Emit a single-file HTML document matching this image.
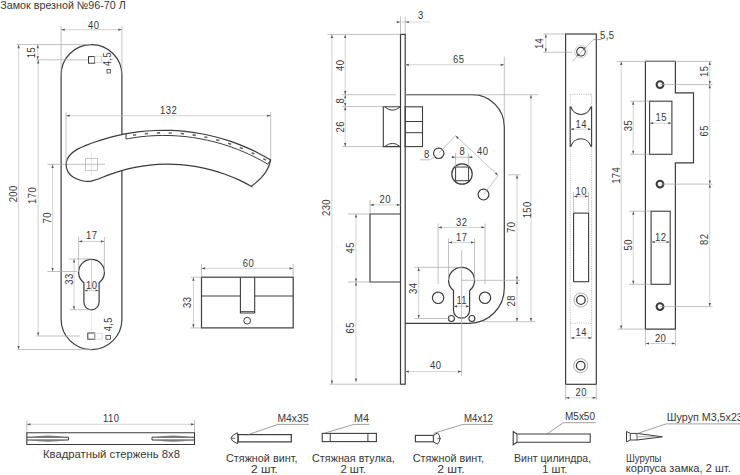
<!DOCTYPE html>
<html><head><meta charset="utf-8"><style>
html,body{margin:0;padding:0;background:#fff;}
svg{display:block;}
text{font-family:"Liberation Sans",sans-serif;fill:#383838;}
</style></head><body>
<svg width="740" height="475" viewBox="0 0 740 475">
<rect width="740" height="475" fill="#fff"/>
<text x="0" y="0" transform="translate(0.3 8.9)" text-anchor="start" font-size="11" textLength="125.5" lengthAdjust="spacingAndGlyphs">Замок врезной №96-70 Л</text>
<path d="M121.9 134.5 L121.9 75 A30.4 30.4 0 0 0 61.1 75 L61.1 319.2 A30.4 30.4 0 0 0 121.9 319.2 L121.9 171" stroke="#3c3c3c" stroke-width="1.2" fill="none"/>
<line x1="61.1" y1="26" x2="61.1" y2="75" stroke="#a8a8a8" stroke-width="0.7"/>
<line x1="121.9" y1="26" x2="121.9" y2="75" stroke="#a8a8a8" stroke-width="0.7"/>
<line x1="61.1" y1="29.7" x2="121.9" y2="29.7" stroke="#c0c0c0" stroke-width="0.7"/>
<path d="M61.1 29.7L64.7 28.6L64.7 30.8Z" fill="#555"/>
<path d="M121.9 29.7L118.3 30.8L118.3 28.6Z" fill="#555"/>
<text x="0" y="0" dx="0.25" transform="translate(93.5 28.7) scale(0.86 1)" text-anchor="middle" font-size="11" letter-spacing="0.5">40</text>
<line x1="17" y1="44.6" x2="91" y2="44.6" stroke="#a8a8a8" stroke-width="0.7"/>
<line x1="36" y1="59.8" x2="88" y2="59.8" stroke="#a8a8a8" stroke-width="0.7"/>
<line x1="37.8" y1="44.6" x2="37.8" y2="59.8" stroke="#c0c0c0" stroke-width="0.7"/>
<path d="M37.8 44.6L38.9 48.2L36.7 48.2Z" fill="#555"/>
<path d="M37.8 59.8L36.7 56.2L38.9 56.2Z" fill="#555"/>
<text x="0" y="0" dx="0.25" transform="translate(34.9 52.8) rotate(-90) scale(0.86 1)" text-anchor="middle" font-size="11" letter-spacing="0.5">15</text>
<rect x="88.5" y="56.6" width="6.1" height="6.6" stroke="#3c3c3c" stroke-width="1.0" fill="none"/>
<rect x="107" y="69.5" width="3.5" height="3.5" stroke="#3c3c3c" stroke-width="0.8" fill="none"/>
<text x="0" y="0" dx="0.25" transform="translate(110.8 59.3) rotate(-90) scale(0.86 1)" text-anchor="middle" font-size="10.5" letter-spacing="0.5">4,5</text>
<rect x="94.7" y="56.2" width="7" height="6.4" stroke="#c4c4c4" stroke-width="0.6" fill="none"/>
<line x1="18.6" y1="44.6" x2="18.6" y2="349.6" stroke="#c0c0c0" stroke-width="0.7"/>
<path d="M18.6 44.6L19.7 48.2L17.5 48.2Z" fill="#555"/>
<path d="M18.6 349.6L17.5 346L19.7 346Z" fill="#555"/>
<text x="0" y="0" dx="0.25" transform="translate(16.8 194) rotate(-90) scale(0.86 1)" text-anchor="middle" font-size="11" letter-spacing="0.5">200</text>
<line x1="17.5" y1="349.6" x2="92" y2="349.6" stroke="#a8a8a8" stroke-width="0.7"/>
<line x1="38.2" y1="59.8" x2="38.2" y2="336" stroke="#c0c0c0" stroke-width="0.7"/>
<path d="M38.2 59.8L39.3 63.4L37.1 63.4Z" fill="#555"/>
<path d="M38.2 336L37.1 332.4L39.3 332.4Z" fill="#555"/>
<text x="0" y="0" dx="0.25" transform="translate(36.4 195.6) rotate(-90) scale(0.86 1)" text-anchor="middle" font-size="11" letter-spacing="0.5">170</text>
<line x1="36.5" y1="336" x2="80" y2="336" stroke="#a8a8a8" stroke-width="0.7"/>
<rect x="87.8" y="333" width="6.9" height="6.2" stroke="#3c3c3c" stroke-width="1.0" fill="none"/>
<rect x="106" y="335.4" width="4.5" height="3.8" stroke="#3c3c3c" stroke-width="0.8" fill="none"/>
<text x="0" y="0" dx="0.25" transform="translate(111.5 324.5) rotate(-90) scale(0.86 1)" text-anchor="middle" font-size="10.5" letter-spacing="0.5">4,5</text>
<rect x="94.4" y="333.2" width="7.7" height="5.9" stroke="#c4c4c4" stroke-width="0.6" fill="none"/>
<line x1="91.5" y1="312" x2="91.5" y2="332" stroke="#d8d8d8" stroke-width="0.5"/>
<line x1="52.6" y1="164.3" x2="52.6" y2="271.5" stroke="#c0c0c0" stroke-width="0.7"/>
<path d="M52.6 164.3L53.7 167.9L51.5 167.9Z" fill="#555"/>
<path d="M52.6 271.5L51.5 267.9L53.7 267.9Z" fill="#555"/>
<text x="0" y="0" dx="0.25" transform="translate(50.5 218) rotate(-90) scale(0.86 1)" text-anchor="middle" font-size="11" letter-spacing="0.5">70</text>
<line x1="47.5" y1="164.3" x2="105" y2="164.3" stroke="#a8a8a8" stroke-width="0.7"/>
<line x1="47.5" y1="271.5" x2="77" y2="271.5" stroke="#a8a8a8" stroke-width="0.7"/>
<path d="M83.9 282.72 A12.9 12.9 0 1 1 99.1 282.72 L99.1 302.2 A7.6 7.6 0 0 1 83.9 302.2 Z" stroke="#3c3c3c" stroke-width="1.2" fill="none"/>
<line x1="78.6" y1="237" x2="78.6" y2="272" stroke="#a8a8a8" stroke-width="0.7"/>
<line x1="104.4" y1="237" x2="104.4" y2="272" stroke="#a8a8a8" stroke-width="0.7"/>
<line x1="78.6" y1="241.4" x2="104.4" y2="241.4" stroke="#c0c0c0" stroke-width="0.7"/>
<path d="M78.6 241.4L82.2 240.3L82.2 242.5Z" fill="#555"/>
<path d="M104.4 241.4L100.8 242.5L100.8 240.3Z" fill="#555"/>
<text x="0" y="0" dx="0.25" transform="translate(91.5 239) scale(0.86 1)" text-anchor="middle" font-size="11" letter-spacing="0.5">17</text>
<line x1="68.7" y1="259" x2="91.5" y2="259" stroke="#a8a8a8" stroke-width="0.7"/>
<line x1="69.7" y1="309.8" x2="91.5" y2="309.8" stroke="#a8a8a8" stroke-width="0.7"/>
<line x1="74" y1="259" x2="74" y2="309.8" stroke="#c0c0c0" stroke-width="0.7"/>
<path d="M74 259L75.1 262.6L72.9 262.6Z" fill="#555"/>
<path d="M74 309.8L72.9 306.2L75.1 306.2Z" fill="#555"/>
<text x="0" y="0" dx="0.25" transform="translate(72.5 279.2) rotate(-90) scale(0.86 1)" text-anchor="middle" font-size="11" letter-spacing="0.5">33</text>
<line x1="83.9" y1="290.5" x2="99.1" y2="290.5" stroke="#c0c0c0" stroke-width="0.7"/>
<path d="M83.9 290.5L87.5 289.4L87.5 291.6Z" fill="#555"/>
<path d="M99.1 290.5L95.5 291.6L95.5 289.4Z" fill="#555"/>
<text x="0" y="0" dx="0.25" transform="translate(91.5 289) scale(0.86 1)" text-anchor="middle" font-size="11" letter-spacing="0.5">10</text>
<line x1="91.5" y1="259" x2="91.5" y2="290" stroke="#a8a8a8" stroke-width="0.5"/>
<path d="M251.9 186.61C249.92 185.57 244.48 182.47 240 180.4C235.52 178.33 230 175.99 225 174.19C220 172.38 215 170.86 210 169.57C205 168.27 200 167.23 195 166.41C190 165.59 185 165.01 180 164.65C175 164.28 170 164.14 165 164.22C160 164.3 155 164.6 150 165.13C145 165.65 140 166.4 135 167.39C130 168.37 124.5 169.77 120 171.05C115.5 172.33 111.5 173.78 108 175.07C104.5 176.35 102 177.72 99 178.76C96 179.79 93 181.01 90 181.3C87 181.59 83.9 181.25 81 180.5C78.1 179.75 74.78 178.28 72.6 176.8C70.42 175.32 68.98 173.62 67.9 171.6C66.82 169.58 66.15 166.88 66.1 164.7C66.05 162.52 66.7 160.37 67.6 158.5C68.5 156.63 69.77 155.11 71.5 153.5C73.23 151.89 75.58 150.21 78 148.86C80.42 147.52 83.17 146.57 86 145.43C88.83 144.3 91.83 143.14 95 142.03C98.17 140.93 101.67 139.79 105 138.8C108.33 137.82 111.67 136.93 115 136.12C118.33 135.31 120.83 134.7 125 133.96C129.17 133.22 135 132.25 140 131.67C145 131.09 150 130.7 155 130.49C160 130.27 165 130.24 170 130.39C175 130.54 180 130.87 185 131.39C190 131.9 195 132.59 200 133.48C205 134.37 210 135.44 215 136.71C220 137.99 225 139.45 230 141.14C235 142.83 240.33 144.88 245 146.84C249.67 148.8 253.72 150.72 258 152.91C262.28 155.09 268.58 158.77 270.7 159.95Q268 175 251.9 185.7Z" stroke="#3c3c3c" stroke-width="1.2" fill="none"/>
<path d="M126 139.01C128.33 138.65 135.17 137.42 140 136.85C144.83 136.29 150 135.86 155 135.64C160 135.42 165 135.39 170 135.54C175 135.7 180 136.04 185 136.56C190 137.09 195 137.8 200 138.71C205 139.63 210 140.72 215 142.03C220 143.34 225 144.85 230 146.58C235 148.32 240.33 150.43 245 152.45C249.67 154.47 254.2 156.75 258 158.71C261.8 160.67 266.17 163.3 267.8 164.21" stroke="#3c3c3c" stroke-width="1.0" fill="none"/>
<line x1="126" y1="133.57" x2="126" y2="139.01" stroke="#3c3c3c" stroke-width="1.0"/>
<line x1="270.7" y1="159.6" x2="267.8" y2="164.21" stroke="#3c3c3c" stroke-width="1.0"/>
<rect x="133" y="134.17" width="3.2" height="1.6" fill="#666" transform="rotate(-8.19 134.6 134.97)"/>
<rect x="144.9" y="132.81" width="3.2" height="1.6" fill="#666" transform="rotate(-4.84 146.5 133.61)"/>
<rect x="156.9" y="132.14" width="3.2" height="1.6" fill="#666" transform="rotate(-1.48 158.5 132.94)"/>
<rect x="168.7" y="132.18" width="3.2" height="1.6" fill="#666" transform="rotate(1.82 170.3 132.98)"/>
<rect x="180.7" y="132.91" width="3.2" height="1.6" fill="#666" transform="rotate(5.18 182.3 133.71)"/>
<rect x="192.6" y="134.34" width="3.2" height="1.6" fill="#666" transform="rotate(8.53 194.2 135.14)"/>
<rect x="204.3" y="136.45" width="3.2" height="1.6" fill="#666" transform="rotate(11.85 205.9 137.25)"/>
<rect x="216.1" y="139.29" width="3.2" height="1.6" fill="#666" transform="rotate(15.25 217.7 140.09)"/>
<rect x="228" y="142.92" width="3.2" height="1.6" fill="#666" transform="rotate(18.72 229.6 143.72)"/>
<rect x="239.7" y="147.29" width="3.2" height="1.6" fill="#666" transform="rotate(22.22 241.3 148.09)"/>
<rect x="251.4" y="152.5" width="3.2" height="1.6" fill="#666" transform="rotate(25.8 253 153.3)"/>
<rect x="263" y="158.57" width="3.2" height="1.6" fill="#666" transform="rotate(29.46 264.6 159.37)"/>
<rect x="85.5" y="158.6" width="12.1" height="11.7" stroke="#b0b0b0" stroke-width="0.7" fill="none"/>
<line x1="91.5" y1="153" x2="91.5" y2="176" stroke="#c8c8c8" stroke-width="0.5"/>
<line x1="66" y1="112" x2="66" y2="164" stroke="#a8a8a8" stroke-width="0.7"/>
<line x1="270.7" y1="112" x2="270.7" y2="159" stroke="#a8a8a8" stroke-width="0.7"/>
<line x1="66" y1="115.7" x2="270.7" y2="115.7" stroke="#c0c0c0" stroke-width="0.7"/>
<path d="M66 115.7L69.6 114.6L69.6 116.8Z" fill="#555"/>
<path d="M270.7 115.7L267.1 116.8L267.1 114.6Z" fill="#555"/>
<text x="0" y="0" dx="0.25" transform="translate(168.4 113.7) scale(0.86 1)" text-anchor="middle" font-size="11" letter-spacing="0.5">132</text>
<rect x="201.5" y="277.2" width="91.7" height="50.7" stroke="#3c3c3c" stroke-width="1.2" fill="none"/>
<line x1="201.5" y1="296" x2="240.4" y2="296" stroke="#3c3c3c" stroke-width="1.2"/>
<line x1="254.7" y1="296" x2="293.2" y2="296" stroke="#3c3c3c" stroke-width="1.2"/>
<path d="M240.4 277.2 L240.4 313 L254.7 313 L254.7 277.2" stroke="#3c3c3c" stroke-width="1.1" fill="none"/>
<line x1="240.4" y1="311.6" x2="254.7" y2="311.6" stroke="#3c3c3c" stroke-width="0.9"/>
<circle cx="247.2" cy="320.7" r="3.4" stroke="#3c3c3c" stroke-width="1.0" fill="none"/>
<line x1="201.5" y1="264" x2="201.5" y2="277" stroke="#a8a8a8" stroke-width="0.7"/>
<line x1="293.2" y1="264" x2="293.2" y2="277" stroke="#a8a8a8" stroke-width="0.7"/>
<line x1="201.5" y1="268.4" x2="293.2" y2="268.4" stroke="#c0c0c0" stroke-width="0.7"/>
<path d="M201.5 268.4L205.1 267.3L205.1 269.5Z" fill="#555"/>
<path d="M293.2 268.4L289.6 269.5L289.6 267.3Z" fill="#555"/>
<text x="0" y="0" dx="0.25" transform="translate(248.3 266.7) scale(0.86 1)" text-anchor="middle" font-size="11" letter-spacing="0.5">60</text>
<line x1="190.5" y1="277.2" x2="201.5" y2="277.2" stroke="#a8a8a8" stroke-width="0.7"/>
<line x1="190.5" y1="327.9" x2="201.5" y2="327.9" stroke="#a8a8a8" stroke-width="0.7"/>
<line x1="193.4" y1="277.2" x2="193.4" y2="327.9" stroke="#c0c0c0" stroke-width="0.7"/>
<path d="M193.4 277.2L194.5 280.8L192.3 280.8Z" fill="#555"/>
<path d="M193.4 327.9L192.3 324.3L194.5 324.3Z" fill="#555"/>
<text x="0" y="0" dx="0.25" transform="translate(191 302.5) rotate(-90) scale(0.86 1)" text-anchor="middle" font-size="11" letter-spacing="0.5">33</text>
<rect x="400.5" y="34.4" width="4.7" height="349.8" stroke="#3c3c3c" stroke-width="1.2" fill="none"/>
<path d="M405.2 94.7 L472.3 94.7 A32 32 0 0 1 504.3 126.7 L504.3 288.3 A35 35 0 0 1 469.3 323.3 L405.2 323.3" stroke="#3c3c3c" stroke-width="1.2" fill="none"/>
<line x1="400.5" y1="16.5" x2="400.5" y2="34" stroke="#a8a8a8" stroke-width="0.7"/>
<line x1="405.2" y1="16.5" x2="405.2" y2="34" stroke="#a8a8a8" stroke-width="0.7"/>
<line x1="396" y1="22" x2="430" y2="22" stroke="#c8c8c8" stroke-width="0.7"/>
<path d="M400.5 22L396.9 23.1L396.9 20.9Z" fill="#555"/>
<path d="M405.2 22L408.8 20.9L408.8 23.1Z" fill="#555"/>
<text x="0" y="0" dx="0.25" transform="translate(420.5 19) scale(0.86 1)" text-anchor="middle" font-size="11" letter-spacing="0.5">3</text>
<line x1="327.5" y1="34.4" x2="400.5" y2="34.4" stroke="#a8a8a8" stroke-width="0.7"/>
<line x1="331.9" y1="34.4" x2="331.9" y2="384.2" stroke="#c0c0c0" stroke-width="0.7"/>
<path d="M331.9 34.4L333 38L330.8 38Z" fill="#555"/>
<path d="M331.9 384.2L330.8 380.6L333 380.6Z" fill="#555"/>
<text x="0" y="0" dx="0.25" transform="translate(330.3 207.7) rotate(-90) scale(0.86 1)" text-anchor="middle" font-size="11" letter-spacing="0.5">230</text>
<line x1="345.2" y1="34.4" x2="345.2" y2="94.7" stroke="#c0c0c0" stroke-width="0.7"/>
<path d="M345.2 34.4L346.3 38L344.1 38Z" fill="#555"/>
<path d="M345.2 94.7L344.1 91.1L346.3 91.1Z" fill="#555"/>
<text x="0" y="0" dx="0.25" transform="translate(343.5 65.5) rotate(-90) scale(0.86 1)" text-anchor="middle" font-size="11" letter-spacing="0.5">40</text>
<line x1="342" y1="94.7" x2="396" y2="94.7" stroke="#a8a8a8" stroke-width="0.7"/>
<line x1="405.2" y1="94.7" x2="538" y2="94.7" stroke="#a8a8a8" stroke-width="0.7"/>
<line x1="345.2" y1="94.7" x2="345.2" y2="106.6" stroke="#c0c0c0" stroke-width="0.7"/>
<path d="M345.2 94.7L346.3 98.3L344.1 98.3Z" fill="#555"/>
<path d="M345.2 106.6L344.1 103L346.3 103Z" fill="#555"/>
<text x="0" y="0" dx="0.25" transform="translate(343.5 101) rotate(-90) scale(0.86 1)" text-anchor="middle" font-size="11" letter-spacing="0.5">8</text>
<line x1="345.2" y1="106.6" x2="345.2" y2="146.6" stroke="#c0c0c0" stroke-width="0.7"/>
<path d="M345.2 106.6L346.3 110.2L344.1 110.2Z" fill="#555"/>
<path d="M345.2 146.6L344.1 143L346.3 143Z" fill="#555"/>
<text x="0" y="0" dx="0.25" transform="translate(343.5 127) rotate(-90) scale(0.86 1)" text-anchor="middle" font-size="11" letter-spacing="0.5">26</text>
<line x1="342" y1="146.6" x2="383.3" y2="146.6" stroke="#a8a8a8" stroke-width="0.7"/>
<line x1="342" y1="106.6" x2="383.3" y2="106.6" stroke="#a8a8a8" stroke-width="0.7"/>
<path d="M400.5 106.8 L383.3 106.8 L383.3 146.6 L400.5 146.6" stroke="#3c3c3c" stroke-width="1.1" fill="none"/>
<path d="M385 107.1 Q392.5 113.4 400 107.1" stroke="#3c3c3c" stroke-width="1.0" fill="none"/>
<path d="M385 146.5 Q392.5 140.2 400 146.5" stroke="#3c3c3c" stroke-width="1.0" fill="none"/>
<rect x="405.2" y="106.8" width="17.3" height="39.8" stroke="#3c3c3c" stroke-width="1.1" fill="none"/>
<line x1="405.2" y1="121.5" x2="422.5" y2="121.5" stroke="#3c3c3c" stroke-width="1.0"/>
<line x1="405.2" y1="132.7" x2="422.5" y2="132.7" stroke="#3c3c3c" stroke-width="1.0"/>
<line x1="504.3" y1="56.5" x2="504.3" y2="121" stroke="#a8a8a8" stroke-width="0.7"/>
<line x1="405.2" y1="64.8" x2="504.3" y2="64.8" stroke="#c0c0c0" stroke-width="0.7"/>
<path d="M405.2 64.8L408.8 63.7L408.8 65.9Z" fill="#555"/>
<path d="M504.3 64.8L500.7 65.9L500.7 63.7Z" fill="#555"/>
<text x="0" y="0" dx="0.25" transform="translate(458.5 63) scale(0.86 1)" text-anchor="middle" font-size="11" letter-spacing="0.5">65</text>
<circle cx="438.7" cy="153.3" r="5.2" stroke="#3c3c3c" stroke-width="1.2" fill="none"/>
<circle cx="483.5" cy="194.6" r="5.4" stroke="#3c3c3c" stroke-width="1.2" fill="none"/>
<circle cx="462" cy="174" r="10.2" stroke="#3c3c3c" stroke-width="1.2" fill="none"/>
<rect x="455.6" y="167" width="13" height="13.7" stroke="#3c3c3c" stroke-width="1.0" fill="none"/>
<line x1="420" y1="159.8" x2="430" y2="159.8" stroke="#a8a8a8" stroke-width="0.7"/>
<line x1="430" y1="159.8" x2="437" y2="155" stroke="#a8a8a8" stroke-width="0.7"/>
<text x="0" y="0" dx="0.25" transform="translate(426.5 158) scale(0.86 1)" text-anchor="middle" font-size="11" letter-spacing="0.5">8</text>
<line x1="455.6" y1="153" x2="455.6" y2="167" stroke="#a8a8a8" stroke-width="0.7"/>
<line x1="468.6" y1="153" x2="468.6" y2="167" stroke="#a8a8a8" stroke-width="0.7"/>
<line x1="451" y1="157.2" x2="473" y2="157.2" stroke="#a8a8a8" stroke-width="0.7"/>
<path d="M455.6 157.2L452 158.3L452 156.1Z" fill="#555"/>
<path d="M468.6 157.2L472.2 156.1L472.2 158.3Z" fill="#555"/>
<text x="0" y="0" dx="0.25" transform="translate(462 155) scale(0.86 1)" text-anchor="middle" font-size="11" letter-spacing="0.5">8</text>
<line x1="438.7" y1="153.3" x2="455.5" y2="135.7" stroke="#a8a8a8" stroke-width="0.7"/>
<line x1="483.5" y1="194.6" x2="498.2" y2="175.5" stroke="#a8a8a8" stroke-width="0.7"/>
<line x1="455.5" y1="135.7" x2="498.2" y2="175.5" stroke="#a8a8a8" stroke-width="0.7"/>
<path d="M455.5 135.7L458.89 137.35L457.39 138.96Z" fill="#555"/>
<path d="M498.2 175.5L494.81 173.85L496.31 172.24Z" fill="#555"/>
<text x="0" y="0" dx="0.25" transform="translate(482.5 154.5) scale(0.86 1)" text-anchor="middle" font-size="11" letter-spacing="0.5">40</text>
<path d="M400.5 214 L370 214 L370 282 L400.5 282" stroke="#3c3c3c" stroke-width="1.2" fill="none"/>
<line x1="370" y1="200" x2="370" y2="214" stroke="#a8a8a8" stroke-width="0.7"/>
<line x1="370" y1="204.9" x2="400.5" y2="204.9" stroke="#c0c0c0" stroke-width="0.7"/>
<path d="M370 204.9L373.6 203.8L373.6 206Z" fill="#555"/>
<path d="M400.5 204.9L396.9 206L396.9 203.8Z" fill="#555"/>
<text x="0" y="0" dx="0.25" transform="translate(385 202.5) scale(0.86 1)" text-anchor="middle" font-size="11" letter-spacing="0.5">20</text>
<line x1="348" y1="214" x2="370" y2="214" stroke="#a8a8a8" stroke-width="0.7"/>
<line x1="348" y1="282" x2="370" y2="282" stroke="#a8a8a8" stroke-width="0.7"/>
<line x1="356" y1="214" x2="356" y2="282" stroke="#c0c0c0" stroke-width="0.7"/>
<path d="M356 214L357.1 217.6L354.9 217.6Z" fill="#555"/>
<path d="M356 282L354.9 278.4L357.1 278.4Z" fill="#555"/>
<text x="0" y="0" dx="0.25" transform="translate(354 248) rotate(-90) scale(0.86 1)" text-anchor="middle" font-size="11" letter-spacing="0.5">45</text>
<line x1="356" y1="282" x2="356" y2="382.2" stroke="#c0c0c0" stroke-width="0.7"/>
<path d="M356 282L357.1 285.6L354.9 285.6Z" fill="#555"/>
<path d="M356 382.2L354.9 378.6L357.1 378.6Z" fill="#555"/>
<text x="0" y="0" dx="0.25" transform="translate(354 328) rotate(-90) scale(0.86 1)" text-anchor="middle" font-size="11" letter-spacing="0.5">65</text>
<line x1="329.5" y1="384.2" x2="400.5" y2="384.2" stroke="#a8a8a8" stroke-width="0.7"/>
<path d="M453.5 290.55 A13 13 0 1 1 469.6 290.55 L469.6 310.15 A8.05 8.05 0 0 1 453.5 310.15 Z" stroke="#3c3c3c" stroke-width="1.2" fill="none"/>
<circle cx="438.1" cy="297.8" r="5.7" stroke="#3c3c3c" stroke-width="1.2" fill="none"/>
<circle cx="485" cy="297.8" r="5.7" stroke="#3c3c3c" stroke-width="1.2" fill="none"/>
<circle cx="451.4" cy="318.5" r="3" stroke="#3c3c3c" stroke-width="1.1" fill="none"/>
<circle cx="471.9" cy="318.5" r="3" stroke="#3c3c3c" stroke-width="1.1" fill="none"/>
<line x1="438.1" y1="223.5" x2="438.1" y2="284" stroke="#a8a8a8" stroke-width="0.7"/>
<line x1="485" y1="223.5" x2="485" y2="284" stroke="#a8a8a8" stroke-width="0.7"/>
<line x1="438.1" y1="227.4" x2="485" y2="227.4" stroke="#c0c0c0" stroke-width="0.7"/>
<path d="M438.1 227.4L441.7 226.3L441.7 228.5Z" fill="#555"/>
<path d="M485 227.4L481.4 228.5L481.4 226.3Z" fill="#555"/>
<text x="0" y="0" dx="0.25" transform="translate(461.5 225.5) scale(0.86 1)" text-anchor="middle" font-size="11" letter-spacing="0.5">32</text>
<line x1="448.5" y1="238.5" x2="448.5" y2="280" stroke="#a8a8a8" stroke-width="0.7"/>
<line x1="474.5" y1="238.5" x2="474.5" y2="280" stroke="#a8a8a8" stroke-width="0.7"/>
<line x1="448.5" y1="242.4" x2="474.5" y2="242.4" stroke="#c0c0c0" stroke-width="0.7"/>
<path d="M448.5 242.4L452.1 241.3L452.1 243.5Z" fill="#555"/>
<path d="M474.5 242.4L470.9 243.5L470.9 241.3Z" fill="#555"/>
<text x="0" y="0" dx="0.25" transform="translate(461.5 240.5) scale(0.86 1)" text-anchor="middle" font-size="11" letter-spacing="0.5">17</text>
<line x1="453.5" y1="306.3" x2="469.6" y2="306.3" stroke="#c0c0c0" stroke-width="0.7"/>
<path d="M453.5 306.3L457.1 305.2L457.1 307.4Z" fill="#555"/>
<path d="M469.6 306.3L466 307.4L466 305.2Z" fill="#555"/>
<text x="0" y="0" dx="0.25" transform="translate(461.5 303.5) scale(0.86 1)" text-anchor="middle" font-size="11" letter-spacing="0.5">11</text>
<line x1="414.5" y1="267.3" x2="461" y2="267.3" stroke="#a8a8a8" stroke-width="0.7"/>
<line x1="414.5" y1="318.5" x2="450" y2="318.5" stroke="#a8a8a8" stroke-width="0.7"/>
<line x1="418.7" y1="267.3" x2="418.7" y2="318.5" stroke="#c0c0c0" stroke-width="0.7"/>
<path d="M418.7 267.3L419.8 270.9L417.6 270.9Z" fill="#555"/>
<path d="M418.7 318.5L417.6 314.9L419.8 314.9Z" fill="#555"/>
<text x="0" y="0" dx="0.25" transform="translate(417.2 288.5) rotate(-90) scale(0.86 1)" text-anchor="middle" font-size="11" letter-spacing="0.5">34</text>
<line x1="461.6" y1="250" x2="461.6" y2="376" stroke="#a8a8a8" stroke-width="0.7"/>
<line x1="461.6" y1="280.3" x2="520" y2="280.3" stroke="#a8a8a8" stroke-width="0.7"/>
<line x1="405.2" y1="371.6" x2="461.6" y2="371.6" stroke="#c0c0c0" stroke-width="0.7"/>
<path d="M405.2 371.6L408.8 370.5L408.8 372.7Z" fill="#555"/>
<path d="M461.6 371.6L458 372.7L458 370.5Z" fill="#555"/>
<text x="0" y="0" dx="0.25" transform="translate(435.5 368.5) scale(0.86 1)" text-anchor="middle" font-size="11" letter-spacing="0.5">40</text>
<line x1="531" y1="94.7" x2="531" y2="321.7" stroke="#c0c0c0" stroke-width="0.7"/>
<path d="M531 94.7L532.1 98.3L529.9 98.3Z" fill="#555"/>
<path d="M531 321.7L529.9 318.1L532.1 318.1Z" fill="#555"/>
<text x="0" y="0" dx="0.25" transform="translate(530.5 210) rotate(-90) scale(0.86 1)" text-anchor="middle" font-size="11" letter-spacing="0.5">150</text>
<line x1="507.9" y1="174.8" x2="520.5" y2="174.8" stroke="#a8a8a8" stroke-width="0.7"/>
<line x1="517" y1="174.8" x2="517" y2="280.3" stroke="#c0c0c0" stroke-width="0.7"/>
<path d="M517 174.8L518.1 178.4L515.9 178.4Z" fill="#555"/>
<path d="M517 280.3L515.9 276.7L518.1 276.7Z" fill="#555"/>
<text x="0" y="0" dx="0.25" transform="translate(514.5 227.5) rotate(-90) scale(0.86 1)" text-anchor="middle" font-size="11" letter-spacing="0.5">70</text>
<line x1="517" y1="280.3" x2="517" y2="321.7" stroke="#c0c0c0" stroke-width="0.7"/>
<path d="M517 280.3L518.1 283.9L515.9 283.9Z" fill="#555"/>
<path d="M517 321.7L515.9 318.1L518.1 318.1Z" fill="#555"/>
<text x="0" y="0" dx="0.25" transform="translate(514.5 301) rotate(-90) scale(0.86 1)" text-anchor="middle" font-size="11" letter-spacing="0.5">28</text>
<line x1="482" y1="321.7" x2="535.5" y2="321.7" stroke="#a8a8a8" stroke-width="0.7"/>
<rect x="565.6" y="34" width="30.7" height="350.3" stroke="#3c3c3c" stroke-width="1.2" fill="none"/>
<line x1="543.3" y1="34" x2="565.6" y2="34" stroke="#a8a8a8" stroke-width="0.7"/>
<line x1="543.3" y1="52.2" x2="572" y2="52.2" stroke="#a8a8a8" stroke-width="0.7"/>
<line x1="545.8" y1="34" x2="545.8" y2="52.2" stroke="#c0c0c0" stroke-width="0.7"/>
<path d="M545.8 34L546.9 37.6L544.7 37.6Z" fill="#555"/>
<path d="M545.8 52.2L544.7 48.6L546.9 48.6Z" fill="#555"/>
<text x="0" y="0" dx="0.25" transform="translate(543 43.6) rotate(-90) scale(0.86 1)" text-anchor="middle" font-size="11" letter-spacing="0.5">14</text>
<circle cx="581" cy="51.7" r="4.3" stroke="#3c3c3c" stroke-width="1.1" fill="none"/>
<circle cx="581" cy="51.7" r="6.3" stroke="#b5b5b5" stroke-width="0.6" fill="none"/>
<line x1="572" y1="61.7" x2="593.5" y2="39.6" stroke="#999" stroke-width="0.6"/>
<line x1="593.5" y1="39.6" x2="601.7" y2="39.6" stroke="#777" stroke-width="0.7"/>
<text x="0" y="0" transform="translate(600 38.5) scale(0.86 1)" text-anchor="start" font-size="11" letter-spacing="0.5">5,5</text>
<path d="M585.7 46.8L583.98 50.15L582.4 48.61Z" fill="#555"/>
<path d="M576.3 56.5L578.02 53.15L579.6 54.69Z" fill="#555"/>
<line x1="570.2" y1="94.3" x2="570.2" y2="339" stroke="#999" stroke-width="0.7" stroke-dasharray="1 1.2"/>
<line x1="591.6" y1="94.3" x2="591.6" y2="339" stroke="#999" stroke-width="0.7" stroke-dasharray="1 1.2"/>
<line x1="570.2" y1="94.3" x2="591.6" y2="94.3" stroke="#999" stroke-width="0.7" stroke-dasharray="1 1.2"/>
<line x1="570.2" y1="323" x2="591.6" y2="323" stroke="#999" stroke-width="0.7" stroke-dasharray="1 1.2"/>
<path d="M570.2 107 L570.2 146.2 L571 146.2 A10.3 10.3 0 0 1 590.8 146.2 L591.6 146.2 L591.6 107 L590.8 107 A10.3 10.3 0 0 1 571 107 Z" stroke="#3c3c3c" stroke-width="1.1" fill="none"/>
<line x1="570.2" y1="129.2" x2="591.6" y2="129.2" stroke="#c0c0c0" stroke-width="0.7"/>
<path d="M570.2 129.2L573.8 128.1L573.8 130.3Z" fill="#555"/>
<path d="M591.6 129.2L588 130.3L588 128.1Z" fill="#555"/>
<text x="0" y="0" dx="0.25" transform="translate(581 127.5) scale(0.86 1)" text-anchor="middle" font-size="11" letter-spacing="0.5">14</text>
<rect x="573.6" y="213.1" width="15" height="68.6" stroke="#3c3c3c" stroke-width="1.1" fill="none"/>
<line x1="573.6" y1="192" x2="573.6" y2="213" stroke="#a8a8a8" stroke-width="0.7"/>
<line x1="588.6" y1="192" x2="588.6" y2="213" stroke="#a8a8a8" stroke-width="0.7"/>
<line x1="573.6" y1="196.4" x2="588.6" y2="196.4" stroke="#c0c0c0" stroke-width="0.7"/>
<path d="M573.6 196.4L577.2 195.3L577.2 197.5Z" fill="#555"/>
<path d="M588.6 196.4L585 197.5L585 195.3Z" fill="#555"/>
<text x="0" y="0" dx="0.25" transform="translate(581 195) scale(0.86 1)" text-anchor="middle" font-size="11" letter-spacing="0.5">10</text>
<circle cx="580.9" cy="300" r="4.3" stroke="#3c3c3c" stroke-width="1.3" fill="none"/>
<circle cx="580.9" cy="300" r="7" stroke="#999" stroke-width="0.8" fill="none"/>
<circle cx="580.7" cy="365.7" r="4.3" stroke="#3c3c3c" stroke-width="1.3" fill="none"/>
<circle cx="580.7" cy="365.7" r="7" stroke="#999" stroke-width="0.8" fill="none"/>
<line x1="570.6" y1="337.9" x2="592" y2="337.9" stroke="#c0c0c0" stroke-width="0.7"/>
<path d="M570.6 337.9L574.2 336.8L574.2 339Z" fill="#555"/>
<path d="M592 337.9L588.4 339L588.4 336.8Z" fill="#555"/>
<text x="0" y="0" dx="0.25" transform="translate(581 335.5) scale(0.86 1)" text-anchor="middle" font-size="11" letter-spacing="0.5">14</text>
<line x1="565.6" y1="384" x2="565.6" y2="400" stroke="#a8a8a8" stroke-width="0.7"/>
<line x1="596.3" y1="384" x2="596.3" y2="400" stroke="#a8a8a8" stroke-width="0.7"/>
<line x1="565.6" y1="397.8" x2="596.3" y2="397.8" stroke="#c0c0c0" stroke-width="0.7"/>
<path d="M565.6 397.8L569.2 396.7L569.2 398.9Z" fill="#555"/>
<path d="M596.3 397.8L592.7 398.9L592.7 396.7Z" fill="#555"/>
<text x="0" y="0" dx="0.25" transform="translate(581 395.5) scale(0.86 1)" text-anchor="middle" font-size="11" letter-spacing="0.5">20</text>
<path d="M645.4 61.4 L675.4 61.4 L675.4 92.9 L693.5 92.9 L693.5 162.8 L675.4 162.8 L675.4 329.1 L645.4 329.1 Z" stroke="#3c3c3c" stroke-width="1.2" fill="none"/>
<circle cx="660" cy="84.6" r="3.4" stroke="#3c3c3c" stroke-width="2.1" fill="none"/>
<circle cx="660" cy="184.1" r="3.4" stroke="#3c3c3c" stroke-width="2.1" fill="none"/>
<circle cx="660" cy="306.6" r="3.4" stroke="#3c3c3c" stroke-width="2.1" fill="none"/>
<rect x="649.6" y="101.2" width="22.3" height="53.1" stroke="#3c3c3c" stroke-width="1.1" fill="none"/>
<rect x="651.1" y="211.2" width="19.1" height="73.1" stroke="#3c3c3c" stroke-width="1.1" fill="none"/>
<line x1="649.6" y1="123.2" x2="671.9" y2="123.2" stroke="#c0c0c0" stroke-width="0.7"/>
<path d="M649.6 123.2L653.2 122.1L653.2 124.3Z" fill="#555"/>
<path d="M671.9 123.2L668.3 124.3L668.3 122.1Z" fill="#555"/>
<text x="0" y="0" dx="0.25" transform="translate(661 121) scale(0.86 1)" text-anchor="middle" font-size="11" letter-spacing="0.5">15</text>
<line x1="651.1" y1="242.1" x2="670.2" y2="242.1" stroke="#c0c0c0" stroke-width="0.7"/>
<path d="M651.1 242.1L654.7 241L654.7 243.2Z" fill="#555"/>
<path d="M670.2 242.1L666.6 243.2L666.6 241Z" fill="#555"/>
<text x="0" y="0" dx="0.25" transform="translate(660.6 240.5) scale(0.86 1)" text-anchor="middle" font-size="11" letter-spacing="0.5">12</text>
<line x1="630" y1="101.2" x2="649.6" y2="101.2" stroke="#a8a8a8" stroke-width="0.7"/>
<line x1="630" y1="154.3" x2="649.6" y2="154.3" stroke="#a8a8a8" stroke-width="0.7"/>
<line x1="633.2" y1="101.2" x2="633.2" y2="154.3" stroke="#c0c0c0" stroke-width="0.7"/>
<path d="M633.2 101.2L634.3 104.8L632.1 104.8Z" fill="#555"/>
<path d="M633.2 154.3L632.1 150.7L634.3 150.7Z" fill="#555"/>
<text x="0" y="0" dx="0.25" transform="translate(631.5 125.7) rotate(-90) scale(0.86 1)" text-anchor="middle" font-size="11" letter-spacing="0.5">35</text>
<line x1="629" y1="211.2" x2="651.1" y2="211.2" stroke="#a8a8a8" stroke-width="0.7"/>
<line x1="629" y1="284.3" x2="651.1" y2="284.3" stroke="#a8a8a8" stroke-width="0.7"/>
<line x1="633.3" y1="211.2" x2="633.3" y2="284.3" stroke="#c0c0c0" stroke-width="0.7"/>
<path d="M633.3 211.2L634.4 214.8L632.2 214.8Z" fill="#555"/>
<path d="M633.3 284.3L632.2 280.7L634.4 280.7Z" fill="#555"/>
<text x="0" y="0" dx="0.25" transform="translate(631.5 245) rotate(-90) scale(0.86 1)" text-anchor="middle" font-size="11" letter-spacing="0.5">50</text>
<line x1="617" y1="61.4" x2="712" y2="61.4" stroke="#a8a8a8" stroke-width="0.7"/>
<line x1="617.6" y1="329.1" x2="645.4" y2="329.1" stroke="#a8a8a8" stroke-width="0.7"/>
<line x1="621.2" y1="61.4" x2="621.2" y2="329.1" stroke="#c0c0c0" stroke-width="0.7"/>
<path d="M621.2 61.4L622.3 65L620.1 65Z" fill="#555"/>
<path d="M621.2 329.1L620.1 325.5L622.3 325.5Z" fill="#555"/>
<text x="0" y="0" dx="0.25" transform="translate(619.5 175.5) rotate(-90) scale(0.86 1)" text-anchor="middle" font-size="11" letter-spacing="0.5">174</text>
<line x1="660" y1="84.6" x2="712.5" y2="84.6" stroke="#a8a8a8" stroke-width="0.7"/>
<line x1="660" y1="184.1" x2="712.5" y2="184.1" stroke="#a8a8a8" stroke-width="0.7"/>
<line x1="660" y1="306.6" x2="712.5" y2="306.6" stroke="#a8a8a8" stroke-width="0.7"/>
<line x1="709.8" y1="61.4" x2="709.8" y2="84.6" stroke="#c0c0c0" stroke-width="0.7"/>
<path d="M709.8 61.4L710.9 65L708.7 65Z" fill="#555"/>
<path d="M709.8 84.6L708.7 81L710.9 81Z" fill="#555"/>
<text x="0" y="0" dx="0.25" transform="translate(708 71.5) rotate(-90) scale(0.86 1)" text-anchor="middle" font-size="11" letter-spacing="0.5">15</text>
<line x1="709.8" y1="84.6" x2="709.8" y2="184.1" stroke="#c0c0c0" stroke-width="0.7"/>
<path d="M709.8 84.6L710.9 88.2L708.7 88.2Z" fill="#555"/>
<path d="M709.8 184.1L708.7 180.5L710.9 180.5Z" fill="#555"/>
<text x="0" y="0" dx="0.25" transform="translate(708 131) rotate(-90) scale(0.86 1)" text-anchor="middle" font-size="11" letter-spacing="0.5">65</text>
<line x1="709.8" y1="184.1" x2="709.8" y2="306.6" stroke="#c0c0c0" stroke-width="0.7"/>
<path d="M709.8 184.1L710.9 187.7L708.7 187.7Z" fill="#555"/>
<path d="M709.8 306.6L708.7 303L710.9 303Z" fill="#555"/>
<text x="0" y="0" dx="0.25" transform="translate(708 239.5) rotate(-90) scale(0.86 1)" text-anchor="middle" font-size="11" letter-spacing="0.5">82</text>
<line x1="645.4" y1="329" x2="645.4" y2="346" stroke="#a8a8a8" stroke-width="0.7"/>
<line x1="675.4" y1="329" x2="675.4" y2="346" stroke="#a8a8a8" stroke-width="0.7"/>
<line x1="645.4" y1="343.5" x2="675.4" y2="343.5" stroke="#c0c0c0" stroke-width="0.7"/>
<path d="M645.4 343.5L649 342.4L649 344.6Z" fill="#555"/>
<path d="M675.4 343.5L671.8 344.6L671.8 342.4Z" fill="#555"/>
<text x="0" y="0" dx="0.25" transform="translate(660.4 342) scale(0.86 1)" text-anchor="middle" font-size="11" letter-spacing="0.5">20</text>
<line x1="26.8" y1="420" x2="26.8" y2="433" stroke="#a8a8a8" stroke-width="0.7"/>
<line x1="194.5" y1="420" x2="194.5" y2="433" stroke="#a8a8a8" stroke-width="0.7"/>
<line x1="26.8" y1="424.3" x2="194.5" y2="424.3" stroke="#c0c0c0" stroke-width="0.7"/>
<path d="M26.8 424.3L30.4 423.2L30.4 425.4Z" fill="#555"/>
<path d="M194.5 424.3L190.9 425.4L190.9 423.2Z" fill="#555"/>
<text x="0" y="0" dx="0.25" transform="translate(111 421.8) scale(0.86 1)" text-anchor="middle" font-size="11" letter-spacing="0.5">110</text>
<path d="M26.8 432.7 L194.5 432.7 L194.5 444.5 L26.8 444.5 Z" stroke="#3c3c3c" stroke-width="1.1" fill="none"/>
<path d="M26.8 437.2 L68.5 437.2 L68.5 440 L26.8 440" stroke="#3c3c3c" stroke-width="1.0" fill="none"/>
<path d="M194.5 437.2 L152 437.2 L152 440 L194.5 440" stroke="#3c3c3c" stroke-width="1.0" fill="none"/>
<path d="M29 437.2 Q48 433.6 67 437.2 Z" fill="#7a7a7a"/>
<path d="M29 440 Q48 443.6 67 440 Z" fill="#7a7a7a"/>
<path d="M154 437.2 Q173 433.6 192 437.2 Z" fill="#7a7a7a"/>
<path d="M154 440 Q173 443.6 192 440 Z" fill="#7a7a7a"/>
<text x="0" y="0" transform="translate(111.5 458.3)" text-anchor="middle" font-size="11" textLength="137" lengthAdjust="spacingAndGlyphs">Квадратный стержень 8х8</text>
<path d="M237.5 432.8 Q224.5 438.3 237.5 443.7 Q239.5 438.3 237.5 432.8 Z" stroke="#3c3c3c" stroke-width="1.0" fill="none"/>
<rect x="238" y="434.6" width="53.3" height="7.3" stroke="#3c3c3c" stroke-width="1.2" fill="none"/>
<line x1="231.5" y1="438.3" x2="235" y2="438.3" stroke="#3c3c3c" stroke-width="0.8"/>
<line x1="247.2" y1="435" x2="278" y2="424.4" stroke="#777" stroke-width="0.7"/>
<line x1="278" y1="424.4" x2="309" y2="424.4" stroke="#777" stroke-width="0.7"/>
<text x="0" y="0" transform="translate(293 421.5)" text-anchor="middle" font-size="11" textLength="31" lengthAdjust="spacingAndGlyphs">M4x35</text>
<text x="0" y="0" transform="translate(261.7 461.5)" text-anchor="middle" font-size="11" textLength="71.4" lengthAdjust="spacingAndGlyphs">Стяжной винт,</text>
<text x="0" y="0" transform="translate(264.5 473)" text-anchor="middle" font-size="11" textLength="26.8" lengthAdjust="spacingAndGlyphs">2 шт.</text>
<rect x="322.2" y="433.4" width="54.2" height="8.2" stroke="#3c3c3c" stroke-width="1.1" fill="none"/>
<line x1="330.2" y1="433.4" x2="330.2" y2="441.6" stroke="#3c3c3c" stroke-width="1.0"/>
<line x1="367.9" y1="433.4" x2="367.9" y2="441.6" stroke="#3c3c3c" stroke-width="1.0"/>
<line x1="324.5" y1="433.2" x2="353.8" y2="424.4" stroke="#777" stroke-width="0.7"/>
<line x1="353.8" y1="424.4" x2="369.5" y2="424.4" stroke="#777" stroke-width="0.7"/>
<text x="0" y="0" transform="translate(361.5 421.5)" text-anchor="middle" font-size="11" textLength="15" lengthAdjust="spacingAndGlyphs">M4</text>
<text x="0" y="0" transform="translate(353.4 461.5)" text-anchor="middle" font-size="11" textLength="82.7" lengthAdjust="spacingAndGlyphs">Стяжная втулка,</text>
<text x="0" y="0" transform="translate(353.2 473)" text-anchor="middle" font-size="11" textLength="25.6" lengthAdjust="spacingAndGlyphs">2 шт.</text>
<rect x="415.4" y="435.4" width="18" height="6.4" stroke="#3c3c3c" stroke-width="1.1" fill="none"/>
<path d="M433.4 435.4 L437.5 432.8 Q442.5 438.6 437.5 444.2 L433.4 441.8" stroke="#3c3c3c" stroke-width="1.0" fill="none"/>
<line x1="437.5" y1="438.6" x2="441" y2="438.6" stroke="#3c3c3c" stroke-width="0.8"/>
<line x1="433.4" y1="433.4" x2="462.9" y2="424.4" stroke="#777" stroke-width="0.7"/>
<line x1="462.9" y1="424.4" x2="493" y2="424.4" stroke="#777" stroke-width="0.7"/>
<text x="0" y="0" transform="translate(478.5 421.5)" text-anchor="middle" font-size="11" textLength="29" lengthAdjust="spacingAndGlyphs">M4x12</text>
<text x="0" y="0" transform="translate(448.4 461.6)" text-anchor="middle" font-size="11" textLength="71.4" lengthAdjust="spacingAndGlyphs">Стяжной винт,</text>
<text x="0" y="0" transform="translate(450.9 472.8)" text-anchor="middle" font-size="11" textLength="27.5" lengthAdjust="spacingAndGlyphs">2 шт.</text>
<path d="M513.2 431.5 L513.2 444.8 L517 442.2 L590.2 442.2 L590.2 434 L517 434 Z" stroke="#3c3c3c" stroke-width="1.1" fill="none"/>
<line x1="517" y1="434" x2="517" y2="442.2" stroke="#3c3c3c" stroke-width="0.9"/>
<line x1="547" y1="434" x2="563.2" y2="422.7" stroke="#777" stroke-width="0.7"/>
<line x1="563.2" y1="422.7" x2="595.7" y2="422.7" stroke="#777" stroke-width="0.7"/>
<text x="0" y="0" transform="translate(580 420)" text-anchor="middle" font-size="11" textLength="30" lengthAdjust="spacingAndGlyphs">M5x50</text>
<text x="0" y="0" transform="translate(552.6 461.6)" text-anchor="middle" font-size="11" textLength="77" lengthAdjust="spacingAndGlyphs">Винт цилиндра,</text>
<text x="0" y="0" transform="translate(554.8 472.8)" text-anchor="middle" font-size="11" textLength="24.9" lengthAdjust="spacingAndGlyphs">1 шт.</text>
<path d="M626.5 431.5 L626.5 441.9 L630.3 440 L637 440 L662.4 436.8 L637 433.4 L630.3 433.4 Z" stroke="#3c3c3c" stroke-width="1.0" fill="none"/>
<line x1="630.3" y1="433.4" x2="630.3" y2="440" stroke="#3c3c3c" stroke-width="0.9"/>
<line x1="637" y1="433.4" x2="637" y2="440" stroke="#3c3c3c" stroke-width="0.8"/>
<line x1="637" y1="436.7" x2="655" y2="436.8" stroke="#777" stroke-width="0.6"/>
<line x1="635" y1="434.3" x2="666.2" y2="423.9" stroke="#777" stroke-width="0.7"/>
<line x1="666.2" y1="423.9" x2="740" y2="423.9" stroke="#777" stroke-width="0.7"/>
<text x="0" y="0" transform="translate(666.8 421.2)" text-anchor="start" font-size="11" textLength="76" lengthAdjust="spacingAndGlyphs">Шуруп М3,5х23</text>
<text x="0" y="0" transform="translate(626 461.8)" text-anchor="start" font-size="11" textLength="35.5" lengthAdjust="spacingAndGlyphs">Шурупы</text>
<text x="0" y="0" transform="translate(625.8 472.3)" text-anchor="start" font-size="11" textLength="105" lengthAdjust="spacingAndGlyphs">корпуса замка, 2 шт.</text>
</svg>
</body></html>
